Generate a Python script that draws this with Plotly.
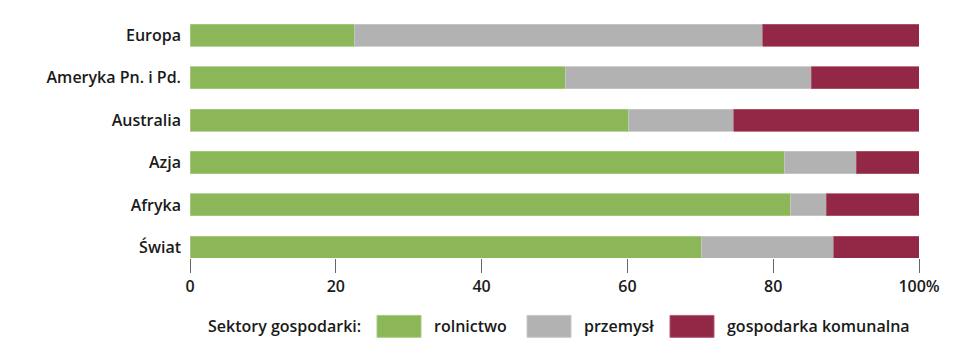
import plotly.graph_objects as go

categories = ["Europa", "Ameryka Pn. i Pd.", "Australia", "Azja", "Afryka", "Świat"]
series_names = ["rolnictwo", "przemysł", "gospodarka komunalna"]
rolnictwo = [22.6, 51.5, 60.2, 81.6, 82.4, 70.1]
przemysl = [56.0, 33.7, 14.4, 9.8, 4.9, 18.2]
komunalna = [21.4, 14.8, 25.4, 8.6, 12.7, 11.7]
series_values = [rolnictwo, przemysl, komunalna]
colors = ["#8cb758", "#b2b2b2", "#922846"]
line_colors = ["#a9cb84", "#c8c8c8", "#b05a72"]
tick_vals = [0, 20, 40, 60, 80, 100]
tick_text = ["0", "20", "40", "60", "80", "100%"]
legend_title = "Sektory gospodarki:"

W, H = 960, 352
L, R, T, B = 190, 41, 14, 93.5
FONT = "Open Sans"
TXT = dict(family=FONT, size=16, color="#1a1a1a", weight=600)

fig = go.Figure()
for name, vals, c, lc in zip(series_names, series_values, colors, line_colors):
    fig.add_trace(go.Bar(
        y=categories, x=vals, name=name, orientation="h",
        marker=dict(color=c, line=dict(color=lc, width=0.8)),
        width=0.52, showlegend=False,
    ))

plot_w = W - L - R
plot_h = H - T - B

def px(xp):
    return (xp - L) / plot_w

def py(yp):
    return (H - B - yp) / plot_h

# custom legend (wide swatches)
sw_y0, sw_y1 = 316, 338
sw_x = [377, 527, 670]
sw_w = 44
shapes = []
annotations = [dict(
    text=legend_title, xref="paper", yref="paper", x=px(363), y=py(327),
    xanchor="right", yanchor="middle", showarrow=False, font=TXT)]
for name, c, lc, x0 in zip(series_names, colors, line_colors, sw_x):
    shapes.append(dict(type="rect", xref="paper", yref="paper",
                       x0=px(x0), x1=px(x0 + sw_w), y0=py(sw_y1), y1=py(sw_y0),
                       fillcolor=c, line=dict(color=lc, width=1)))
    annotations.append(dict(
        text=name, xref="paper", yref="paper", x=px(x0 + sw_w + 11), y=py(327),
        xanchor="left", yanchor="middle", showarrow=False, font=TXT))

fig.update_layout(
    barmode="stack",
    width=W, height=H,
    margin=dict(l=L, r=R, t=T, b=B, pad=0),
    paper_bgcolor="white", plot_bgcolor="white",
    font=TXT,
    showlegend=False,
    shapes=shapes, annotations=annotations,
    xaxis=dict(range=[0, 100], tickvals=tick_vals, ticktext=tick_text,
               showgrid=False, zeroline=False, showline=False,
               ticks="outside", ticklen=14, tickwidth=1, tickcolor="#666666",
               tickfont=TXT),
    yaxis=dict(type="category", categoryorder="array", categoryarray=categories,
               range=[5.25, -0.5], showgrid=False, zeroline=False, showline=False,
               ticks="", ticklabelstandoff=8, tickfont=TXT),
)

fig.write_html("out.html")
